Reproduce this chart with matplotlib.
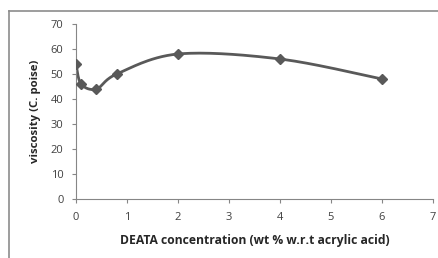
import numpy as np
import matplotlib
matplotlib.use('Agg')
import matplotlib.pyplot as plt
from matplotlib.lines import Line2D

plt.rcParams['font.family'] = ['Open Sans', 'DejaVu Sans']

conc = [0, 0.1, 0.4, 0.8, 2, 4, 6]
visc = [54, 46, 44, 50, 58, 56, 48]
xticks = [0, 1, 2, 3, 4, 5, 6, 7]
yticks = [0, 10, 20, 30, 40, 50, 60, 70]


def smooth(xs, ys, n=30):
    # excel style smoothed line: bezier with catmull-rom control points
    p = np.column_stack([xs, ys]).astype(float)
    p = np.vstack([p[0], p, p[-1]])
    out = []
    t = np.linspace(0, 1, n)[:, None]
    for i in range(1, len(p) - 2):
        p0, p1, p2, p3 = p[i - 1], p[i], p[i + 1], p[i + 2]
        c1 = p1 + (p2 - p0) / 6
        c2 = p2 - (p3 - p1) / 6
        seg = ((1 - t) ** 3) * p1 + 3 * ((1 - t) ** 2) * t * c1 + 3 * (1 - t) * t ** 2 * c2 + t ** 3 * p2
        out.append(seg)
    out = np.vstack(out)
    return out[:, 0], out[:, 1]


fig = plt.figure(figsize=(4.38, 2.58), dpi=100)
ax = fig.add_axes([76 / 438, 1 - 199 / 258, 357 / 438, 175 / 258])

sx, sy = smooth(conc, visc)
ax.plot(sx, sy, color='#595959', lw=2.0, zorder=2)
ax.plot(conc, visc, ls='none', marker='D', ms=5.5, color='#595959', zorder=3)

ax.set_xlim(0, 7)
ax.set_ylim(0, 70)
ax.set_xticks(xticks)
ax.set_yticks(yticks)
for s in ['top', 'right']:
    ax.spines[s].set_visible(False)
for s in ['left', 'bottom']:
    ax.spines[s].set_color('#868686')
    ax.spines[s].set_linewidth(0.8)
ax.tick_params(direction='out', length=3, width=0.8, color='#868686',
               labelsize=8, labelcolor='#404040', pad=6)
ax.set_xlabel('DEATA concentration (wt % w.r.t acrylic acid)', fontsize=8.7,
              fontweight='bold', color='#262626', labelpad=8)
ax.set_ylabel('viscosity (C. poise)', fontsize=8.2, fontweight='bold',
              color='#262626', labelpad=7)

# chart area border (left and top only visible)
fig.add_artist(Line2D([9 / 438, 9 / 438], [0, 1 - 11 / 258], color='#8c8c8c', lw=1.2))
fig.add_artist(Line2D([9 / 438, 1], [1 - 11 / 258, 1 - 11 / 258], color='#8c8c8c', lw=1.2))

fig.savefig('out.png', dpi=100)
